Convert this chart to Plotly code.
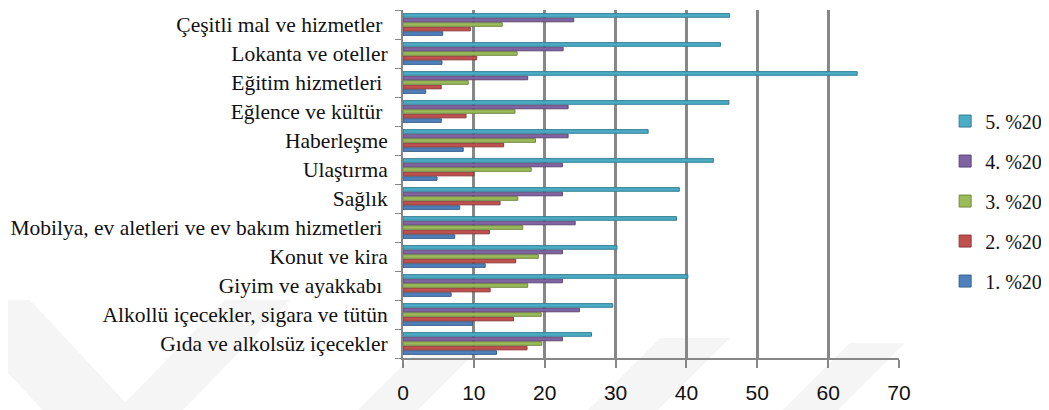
import plotly.graph_objects as go

categories = [
    "Gıda ve alkolsüz içecekler",
    "Alkollü içecekler, sigara ve tütün",
    "Giyim ve ayakkabı ",
    "Konut ve kira",
    "Mobilya, ev aletleri ve ev bakım hizmetleri ",
    "Sağlık",
    "Ulaştırma",
    "Haberleşme",
    "Eğlence ve kültür ",
    "Eğitim hizmetleri ",
    "Lokanta ve oteller",
    "Çeşitli mal ve hizmetler ",
]

q1 = [13.2, 9.8, 6.8, 11.6, 7.3, 8.0, 4.8, 8.5, 5.4, 3.2, 5.5, 5.6]
q2 = [17.5, 15.6, 12.3, 15.9, 12.2, 13.7, 10.0, 14.2, 8.9, 5.4, 10.4, 9.5]
q3 = [19.6, 19.5, 17.6, 19.1, 16.9, 16.2, 18.1, 18.7, 15.8, 9.2, 16.1, 14.0]
q4 = [22.5, 24.9, 22.5, 22.5, 24.3, 22.5, 22.5, 23.3, 23.3, 17.6, 22.6, 24.1]
q5 = [26.6, 29.6, 40.2, 30.2, 38.6, 39.0, 43.8, 34.6, 46.0, 64.1, 44.8, 46.1]

series_names = ["1. %20", "2. %20", "3. %20", "4. %20", "5. %20"]
series_values = [q1, q2, q3, q4, q5]
colors = ["#4F81BD", "#C0504D", "#9BBB59", "#8064A2", "#4BACC6"]
edges = ["#385D8A", "#8C3836", "#71893F", "#5C4776", "#357D91"]

x_ticks = [0, 10, 20, 30, 40, 50, 60, 70]

W, H = 1041, 402
L, T, PW, PH = 395, 2, 496, 348
R = W - L - PW
B = H - T - PH
OFF = 8  # page body margin


def to_paper(sx, sy):
    return ((sx - OFF - L) / PW, 1 - (sy - OFF - T) / PH)


def band(points):
    pts = [to_paper(x, y) for x, y in points]
    d = "M " + " L ".join(f"{x:.4f},{y:.4f}" for x, y in pts) + " Z"
    return dict(type="path", path=d, xref="paper", yref="paper",
                fillcolor="#F5F5F5", line=dict(width=0), layer="below")


shapes = [
    band([(-60, 300), (30, 300), (140, 418), (50, 418)]),
    band([(110, 418), (175, 418), (290, 300), (225, 300)]),
    band([(350, 418), (410, 418), (490, 338), (430, 338)]),
    band([(580, 418), (650, 418), (730, 338), (660, 338)]),
    band([(775, 418), (830, 418), (905, 343), (850, 343)]),
]

fig = go.Figure()
n = len(series_names)
for i, (name, vals, c, e) in enumerate(zip(series_names, series_values, colors, edges)):
    fig.add_trace(go.Bar(
        y=categories, x=vals, name=name, orientation="h",
        legendgroup=name, legendrank=n - i,
        marker=dict(color=c, line=dict(color=e, width=1)),
    ))

fig.update_layout(
    width=W, height=H,
    barmode="group", bargap=0.22, bargroupgap=0.2,
    paper_bgcolor="white", plot_bgcolor="rgba(0,0,0,0)",
    margin=dict(l=L, r=R, t=T, b=B),
    legend=dict(
        traceorder="grouped", x=1.093, y=0.451,
        xanchor="left", yanchor="middle",
        font=dict(family="Liberation Serif", size=20, color="#111"),
        itemwidth=30, tracegroupgap=11, bgcolor="rgba(0,0,0,0)",
    ),
    shapes=shapes,
    showlegend=True,
)
fig.update_xaxes(
    range=[0, 70], tickvals=x_ticks, ticktext=[str(v) for v in x_ticks],
    showgrid=True, gridcolor="#878787", gridwidth=3,
    showline=True, linecolor="#878787", linewidth=2,
    ticks="outside", ticklen=8, tickcolor="#878787", tickwidth=2,
    ticklabelstandoff=7,
    tickfont=dict(family="Liberation Sans", size=21, color="#111"),
    zeroline=False,
)
fig.update_yaxes(
    type="category", categoryorder="array", categoryarray=categories,
    showline=True, linecolor="#878787", linewidth=2,
    ticks="outside", ticklen=6, tickcolor="#878787", tickwidth=1,
    tickson="boundaries", ticklabelstandoff=9,
    tickfont=dict(family="Liberation Serif", size=21.5, color="#111"),
    showgrid=False,
)

fig.write_html("out.html")
